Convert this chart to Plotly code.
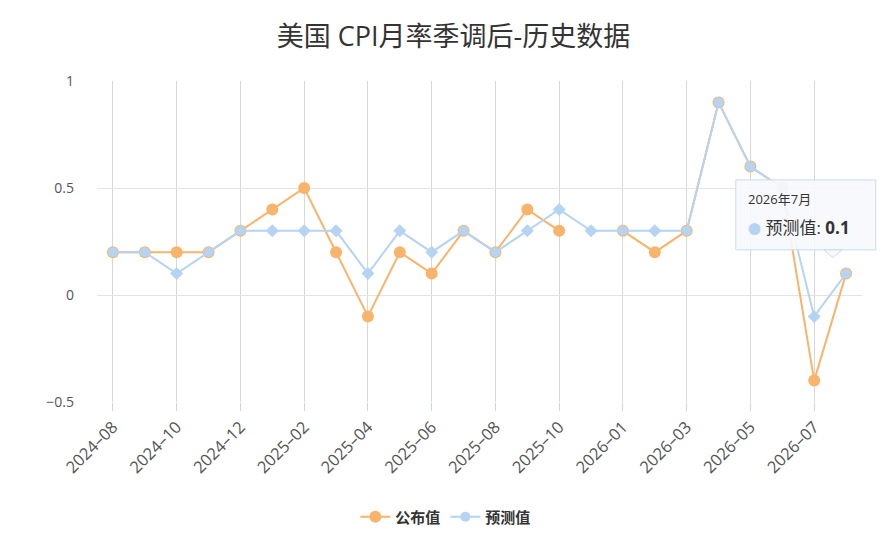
import plotly.graph_objects as go

# 美国 CPI月率季调后 - 公布值 vs 预测值
months = ["2024-08", "2024-09", "2024-10", "2024-11", "2024-12", "2025-01",
          "2025-02", "2025-03", "2025-04", "2025-05", "2025-06", "2025-07",
          "2025-08", "2025-09", "2025-10", "2025-12", "2026-01", "2026-02",
          "2026-03", "2026-04", "2026-05", "2026-06", "2026-07", "2026-08"]
actual = [0.2, 0.2, 0.2, 0.2, 0.3, 0.4, 0.5, 0.2, -0.1, 0.2, 0.1, 0.3,
          0.2, 0.4, 0.3, None, 0.3, 0.2, 0.3, 0.9, 0.6, 0.5, -0.4, 0.1]
forecast = [0.2, 0.2, 0.1, 0.2, 0.3, 0.3, 0.3, 0.3, 0.1, 0.3, 0.2, 0.3,
            0.2, 0.3, 0.4, 0.3, 0.3, 0.3, 0.3, 0.9, 0.6, 0.5, -0.1, 0.1]
tick_months = months[::2]
tick_text = [m.replace("-", "–") for m in tick_months]

orange = "#f9b46b"
blue = "#b5d4f3"
font_family = "Open Sans, Noto Sans CJK SC, sans-serif"

# where both values match the point looks like a blue circle on the orange one
blue_symbols = ["circle" if a == f else "diamond" for a, f in zip(actual, forecast)]

fig = go.Figure()
fig.add_trace(go.Scatter(
    x=months, y=actual, name="公布值", mode="lines+markers",
    line=dict(color=orange, width=2),
    marker=dict(symbol="circle", size=12, color=orange),
    connectgaps=False,
))
fig.add_trace(go.Scatter(
    x=months, y=forecast, name="预测值", mode="lines+markers",
    line=dict(color=blue, width=2),
    marker=dict(symbol=blue_symbols, size=10, color=blue),
))

# hover box as it appears in the picture
fig.add_shape(type="rect", xref="paper", yref="paper",
              x0=0.835, x1=1.018, y0=0.474, y1=0.692,
              fillcolor="rgba(247,249,252,0.92)", line=dict(color="#c6dcf2", width=1))
fig.add_shape(type="path", xref="paper", yref="paper",
              path="M 0.95 0.474 L 0.962 0.45 L 0.974 0.474 Z",
              fillcolor="rgba(247,249,252,0.92)", line=dict(color="#c6dcf2", width=1))
fig.add_annotation(x=0.849, y=0.632, xref="paper", yref="paper", showarrow=False,
                   xanchor="left", yanchor="middle", text="2026年7月",
                   font=dict(family=font_family, size=13, color="#333333"))
fig.add_annotation(x=0.849, y=0.545, xref="paper", yref="paper", showarrow=False,
                   xanchor="left", yanchor="middle",
                   text="<span style='color:#b5d4f3;font-size:13px'>●</span> 预测值: <b>0.1</b>",
                   font=dict(family=font_family, size=17, color="#333333"))

fig.update_layout(
    width=891, height=558,
    margin=dict(l=89, r=37, t=73, b=164),
    paper_bgcolor="white", plot_bgcolor="white",
    font=dict(family=font_family, color="#666666", size=15),
    title=dict(text="美国 CPI月率季调后-历史数据", x=0.5, xanchor="center",
               y=0.948, yanchor="middle",
               font=dict(size=27, color="#333333", family=font_family)),
    showlegend=True,
    legend=dict(orientation="h", x=0.456, xanchor="center", y=-0.358, yanchor="middle",
                font=dict(size=15, color="#333333", family=font_family, weight="bold")),
    hovermode=False,
)
fig.update_xaxes(
    type="category", range=[-0.5, 23.5], automargin=False,
    tickmode="array", tickvals=tick_months, ticktext=tick_text,
    tickangle=-45, ticks="outside", ticklen=8, tickcolor="#ccd6eb",
    showgrid=True, gridcolor="#d8d8d8", gridwidth=1,
    showline=False, zeroline=False,
    tickfont=dict(size=16.5, color="#555555"),
)
fig.update_yaxes(
    range=[-0.5, 1], automargin=False,
    tickvals=[-0.5, 0, 0.5, 1], ticktext=["−0.5", "0", "0.5", "1"],
    showgrid=True, gridcolor="#e3e3e3", gridwidth=1,
    zeroline=False, showline=False, ticks="", ticklabelstandoff=22,
    tickfont=dict(size=14, color="#555555"),
)

fig.write_html("out.html")
